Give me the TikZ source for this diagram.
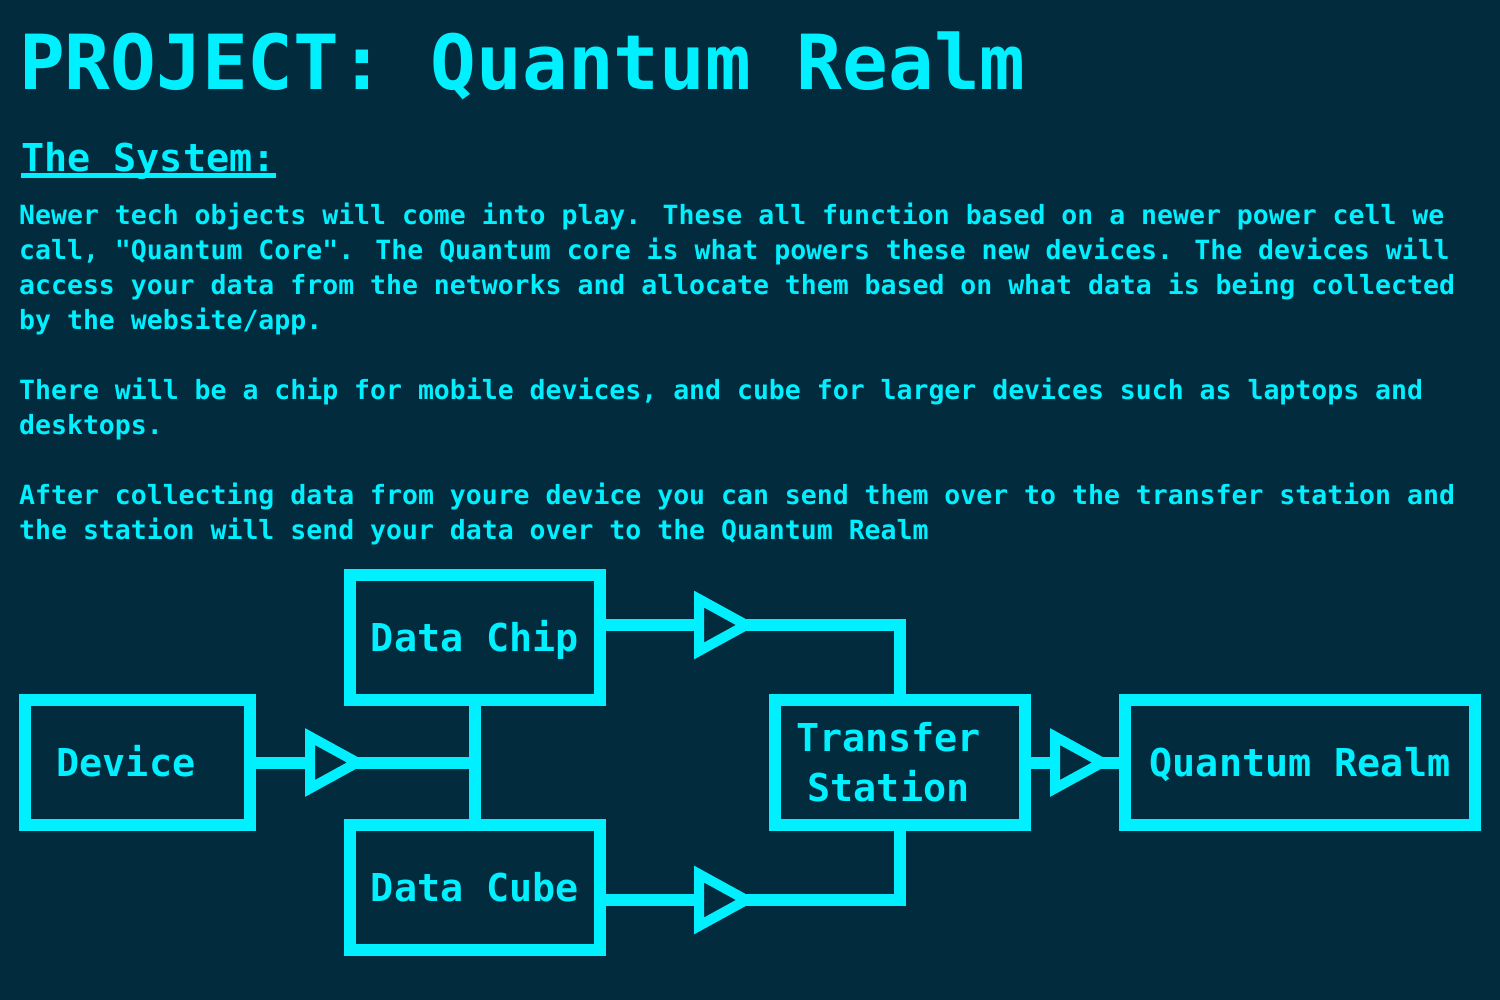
\documentclass[tikz,border=0pt]{standalone}
\usepackage{fontspec}
\setmainfont{DejaVu Sans Mono}
\usepackage{tikz}
\usetikzlibrary{arrows.meta,decorations.markings}

\definecolor{bg}{HTML}{022B3D}
\definecolor{neon}{HTML}{00F0FF}

\begin{document}
\begin{tikzpicture}[
  x=1pt, y=-1pt,
  box/.style={draw=neon, line width=12pt, minimum width=250pt, minimum height=125pt,
    inner sep=0pt, text=neon, text height=28pt, text depth=0pt,
    font=\fontsize{38.4}{50}\selectfont\bfseries},
  wire/.style={draw=neon, line width=12pt},
  flow/.style={wire, postaction={decorate}, decoration={markings,
    mark=at position #1 with {\arrow{Triangle[sharp, length=63pt, width=66pt, line width=10pt, fill=bg]}}}}
]
\useasboundingbox (0,0) rectangle (1500,1000);
\fill[bg] (0,0) rectangle (1500,1000);

% heading and description
\node[anchor=base west, inner sep=0pt, text=neon, font=\fontsize{76}{90}\selectfont\bfseries] (title) at (19,90) {PROJECT: Quantum Realm};
\node[anchor=base west, inner sep=0pt, text=neon, font=\fontsize{38.4}{46}\selectfont\bfseries] (sys) at (21,172) {The System:};
\draw[neon, line width=4.5pt] ([yshift=-3.5pt]sys.base west) -- ([yshift=-3.5pt]sys.base east);
\node[anchor=north west, inner sep=0pt, align=left, text=neon, font=\fontsize{26.5}{35}\selectfont\bfseries] (desc) at (19,203)
  {Newer tech objects will come into play. These all function based on a newer power cell we\\
   call, \textquotedbl Quantum Core\textquotedbl. The Quantum core is what powers these new devices. The devices will\\
   access your data from the networks and allocate them based on what data is being collected\\
   by the website/app.\\[35pt]
   There will be a chip for mobile devices, and cube for larger devices such as laptops and\\
   desktops.\\[35pt]
   After collecting data from youre device you can send them over to the transfer station and\\
   the station will send your data over to the Quantum Realm};

% system blocks
\node[box, minimum width=225pt] (dev) at (137.5,762.5) {Device\kern.6em};
\node[box] (chip) at (475,637.5) {Data Chip};
\node[box] (cube) at (475,887.5) {Data Cube};
\node[box, align=center, text height=78pt] (ts) at (900,762.5) {Transfer\kern.6em\\Station\kern.6em};
\node[box, minimum width=350pt] (qr) at (1300,762.5) {Quantum Realm};

\draw[wire] (chip) -- (cube);
\draw[flow=112pt] (dev) -- (dev -| chip);
\draw[flow=151pt] ([yshift=12.5pt]chip.east) -| (ts);
\draw[flow=151pt] ([yshift=-12.5pt]cube.east) -| (ts);
\draw[flow=82pt] (ts) -- (qr);
\end{tikzpicture}
\end{document}
